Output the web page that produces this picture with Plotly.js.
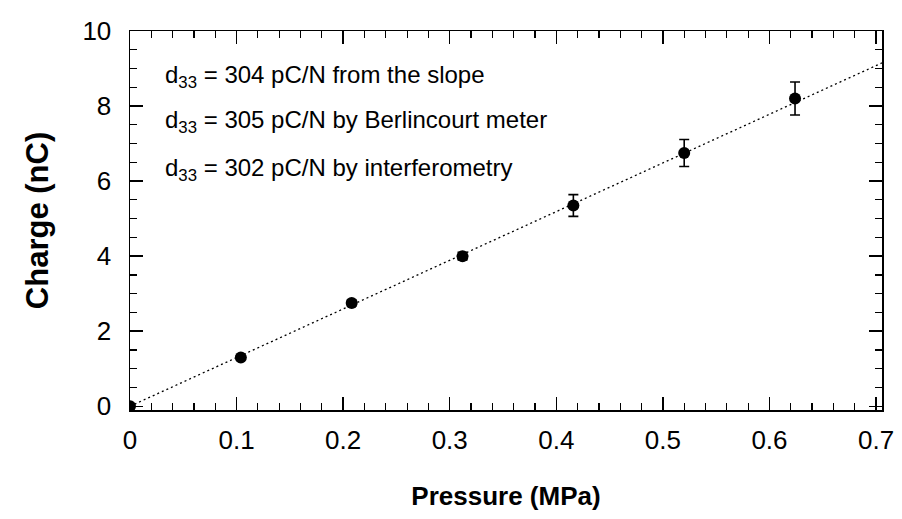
<!DOCTYPE html>
<html>
<head>
<meta charset="utf-8">
<script src="https://cdn.plot.ly/plotly-3.0.1.min.js"></script>
<style>html,body{margin:0;padding:0;background:#fff;}</style>
</head>
<body>
<div id="chart" style="width:902px;height:519px;"></div>
<script>
// Data
const pressure = [0, 0.104, 0.208, 0.312, 0.416, 0.52, 0.624];
const charge   = [0, 1.3, 2.75, 4.0, 5.35, 6.75, 8.2];
const chargeErr = [0, 0.05, 0.08, 0.1, 0.29, 0.36, 0.44];
const fitX = [0, 0.7056];
const fitY = [0.0, 9.15];
const notes = [
  'd<sub>33</sub> = 304 pC/N from the slope',
  'd<sub>33</sub> = 305 pC/N by Berlincourt meter',
  'd<sub>33</sub> = 302 pC/N by interferometry'
];
const noteY = [8.8, 7.6, 6.32];
const xTicks = [0, 0.1, 0.2, 0.3, 0.4, 0.5, 0.6, 0.7];
const xTickText = ['0', '0.1', '0.2', '0.3', '0.4', '0.5', '0.6', '0.7'];
const yTicks = [0, 2, 4, 6, 8, 10];

const font = 'Liberation Sans, Arial, Helvetica, sans-serif';

const traces = [
  {
    x: fitX, y: fitY, mode: 'lines', type: 'scatter',
    line: {color: '#000', width: 1.3, dash: '2px,3px'},
    hoverinfo: 'skip', showlegend: false
  },
  {
    x: pressure, y: charge, mode: 'markers', type: 'scatter',
    marker: {color: '#000', size: 12, symbol: 'circle'},
    error_y: {type: 'data', array: chargeErr, visible: true, color: '#000', thickness: 1.6, width: 5},
    showlegend: false
  }
];

const layout = {
  width: 902, height: 519,
  margin: {l: 130, r: 20, t: 31, b: 109},
  paper_bgcolor: '#fff', plot_bgcolor: '#fff',
  font: {family: font, color: '#000', size: 25},
  showlegend: false,
  xaxis: {
    range: [0, 0.7056],
    tickvals: xTicks, ticktext: xTickText,
    ticks: 'inside', ticklen: 13, tickwidth: 1.5, tickcolor: '#000',
    minor: {dtick: 0.02, ticks: 'inside', ticklen: 7, tickwidth: 1.2, tickcolor: '#000'},
    showline: true, linecolor: '#000', linewidth: 1.5, mirror: 'allticks',
    showgrid: false, zeroline: false,
    ticklabelstandoff: 6,
    tickfont: {family: font, size: 26, color: '#000'},
    title: {text: '<b>Pressure (MPa)</b>', font: {family: font, size: 26, color: '#000'}, standoff: 33}
  },
  yaxis: {
    range: [-0.1, 10],
    tickvals: yTicks,
    ticks: 'inside', ticklen: 13, tickwidth: 1.5, tickcolor: '#000',
    minor: {dtick: 0.5, ticks: 'inside', ticklen: 7, tickwidth: 1.2, tickcolor: '#000'},
    showline: true, linecolor: '#000', linewidth: 1.5, mirror: 'allticks',
    showgrid: false, zeroline: false,
    ticklabelstandoff: 12,
    tickfont: {family: font, size: 26, color: '#000'},
    title: {text: '<b>Charge (nC)</b>', font: {family: font, size: 31, color: '#000'}, standoff: 24}
  },
  annotations: notes.map((t, i) => ({
    text: t, x: 0.031, y: noteY[i], xref: 'x', yref: 'y',
    xanchor: 'left', yanchor: 'middle', showarrow: false,
    font: {family: font, size: 24, color: '#000'}
  }))
};

Plotly.newPlot('chart', traces, layout, {displayModeBar: false, staticPlot: true});
</script>
</body>
</html>
